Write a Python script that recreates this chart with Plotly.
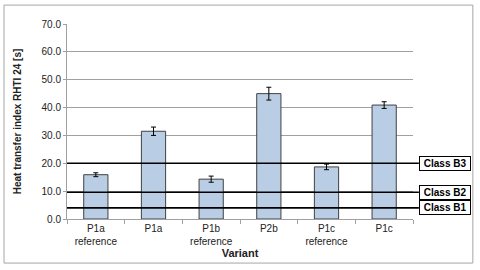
import plotly.graph_objects as go

categories = ["P1a<br>reference", "P1a", "P1b<br>reference", "P2b", "P1c<br>reference", "P1c"]
values = [15.9, 31.5, 14.3, 45.0, 18.7, 40.9]
errors = [0.7, 1.5, 1.1, 2.3, 1.0, 1.2]
class_names = ["Class B3", "Class B2", "Class B1"]
class_values = [20.0, 9.6, 4.0]
y_ticks = [0, 10, 20, 30, 40, 50, 60, 70]

font = "Liberation Sans, Arial, sans-serif"

fig = go.Figure()
fig.add_trace(go.Bar(
    x=categories, y=values,
    width=0.42,
    marker=dict(color="#b9cde5", line=dict(color="#404040", width=1)),
    error_y=dict(type="data", array=errors, color="black", thickness=1, width=2.5),
))

for name, v in zip(class_names, class_values):
    fig.add_shape(type="line", xref="paper", yref="y", x0=0, x1=1.017, y0=v, y1=v,
                  line=dict(color="black", width=1.6))
    fig.add_annotation(xref="paper", yref="y", x=1.092, y=v, xanchor="center", yanchor="middle",
                       text="&nbsp;<b>%s</b>&nbsp;" % name,
                       showarrow=False, bordercolor="black", borderwidth=1, bgcolor="white",
                       borderpad=1, font=dict(family=font, size=10, color="black"))

fig.add_shape(type="rect", xref="paper", yref="paper", x0=-0.182, x1=1.173, y0=-0.226, y1=1.097,
              line=dict(color="#a6a6a6", width=1), layer="below")

fig.update_layout(
    width=480, height=270,
    margin=dict(l=67, r=67, t=24, b=51),
    paper_bgcolor="white", plot_bgcolor="white",
    showlegend=False,
    font=dict(family=font, size=10, color="#222222"),
    bargap=0.58,
)
fig.update_yaxes(
    range=[0, 70], tickvals=y_ticks, tickformat=".1f",
    showgrid=True, gridcolor="#a0a0a0", gridwidth=1,
    showline=True, linecolor="#a0a0a0", ticks="outside", ticklen=3, tickcolor="#a0a0a0",
    zeroline=False,
    title=dict(text="<b>Heat transfer index RHTI 24 [s]</b>", font=dict(size=10, color="#222222"), standoff=18),
    tickfont=dict(size=10),
)
fig.update_xaxes(
    showline=True, linecolor="#a0a0a0", ticks="outside", tickson="boundaries", ticklen=4,
    tickcolor="#a0a0a0",
    title=dict(text="<b>Variant</b>", font=dict(size=11, color="#222222"), standoff=2),
    tickfont=dict(size=10),
)

fig.write_html("out.html", config={"displayModeBar": False},
               post_script="document.body.style.margin='0';document.body.style.overflow='hidden';")
